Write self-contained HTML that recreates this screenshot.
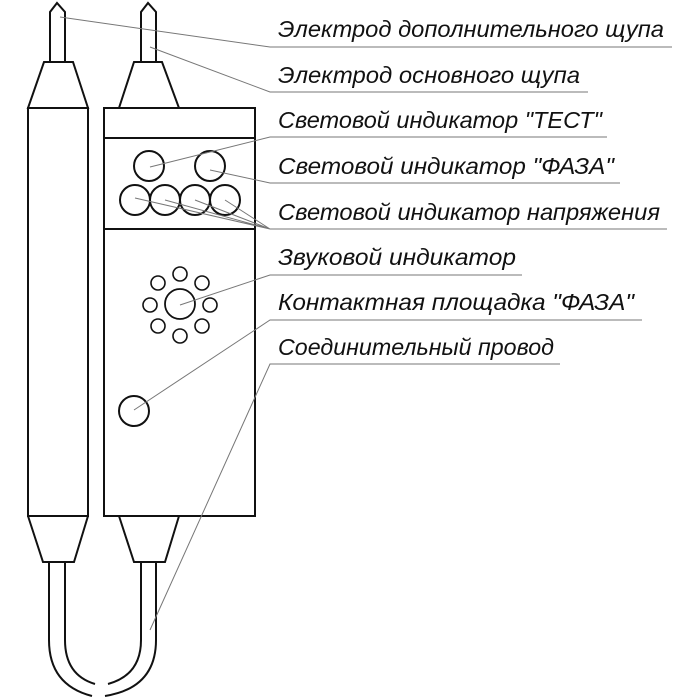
<!DOCTYPE html><html><head><meta charset="utf-8"><style>body{margin:0;background:#fff}svg{display:block}</style></head><body>
<svg width="700" height="700" viewBox="0 0 700 700" xmlns="http://www.w3.org/2000/svg">
<g fill="none" stroke="#111" stroke-width="2">
<path d="M50,62 V12 L57,3 L65,12 V62"/>
<path d="M44,62 H73 L88,108 H28 Z"/>
<rect x="28" y="108" width="60" height="408"/>
<path d="M28,516 L43,562 H74 L88,516"/>
<path d="M49,562 V640 Q49,685 92,696"/>
<path d="M65,562 V640 Q65,675 95,684"/>
<path d="M141,62 V12 L148,3 L156,12 V62"/>
<path d="M134,62 H162 L179,108 H119 Z"/>
<rect x="104" y="108" width="151" height="408"/>
<line x1="104" y1="138" x2="255" y2="138"/>
<line x1="104" y1="229" x2="255" y2="229"/>
<path d="M119,516 L134,562 H165 L179,516"/>
<path d="M141,562 V640 Q141,675 108,684"/>
<path d="M156,562 V640 Q156,688 105,696"/>
<circle cx="149" cy="166" r="15"/><circle cx="210" cy="166" r="15"/>
<circle cx="135" cy="200" r="15"/><circle cx="165" cy="200" r="15"/><circle cx="195" cy="200" r="15"/><circle cx="225" cy="200" r="15"/>
<circle cx="180" cy="304" r="15" stroke-width="1.8"/>
<g stroke-width="1.6">
<circle cx="158" cy="283" r="7"/><circle cx="180" cy="274" r="7"/><circle cx="202" cy="283" r="7"/>
<circle cx="150" cy="305" r="7"/><circle cx="210" cy="305" r="7"/>
<circle cx="158" cy="326" r="7"/><circle cx="180" cy="336" r="7"/><circle cx="202" cy="326" r="7"/>
</g>
<circle cx="134" cy="411" r="15"/>
</g>
<g fill="none" stroke="#777" stroke-width="1">
<path d="M60,17 L270,47 H672"/>
<path d="M150,47 L270,92 H588"/>
<path d="M150,167 L270,137 H607"/>
<path d="M210,170 L270,183 H620"/>
<path d="M135,198 L270,229 H667 M165,200 L270,229 M195,200 L270,229 M225,200 L270,229"/>
<path d="M180,305 L270,275 H522"/>
<path d="M134,410 L270,320 H642"/>
<path d="M150,630 L270,364 H560"/>
</g>
<g font-family="Liberation Sans, sans-serif" font-style="italic" font-size="23" fill="#111">
<text x="278" y="37" textLength="386" lengthAdjust="spacingAndGlyphs">Электрод дополнительного щупа</text>
<text x="278" y="83" textLength="302" lengthAdjust="spacingAndGlyphs">Электрод основного щупа</text>
<text x="278" y="128" textLength="324" lengthAdjust="spacingAndGlyphs">Световой индикатор "ТЕСТ"</text>
<text x="278" y="174" textLength="336" lengthAdjust="spacingAndGlyphs">Световой индикатор "ФАЗА"</text>
<text x="278" y="220" textLength="382" lengthAdjust="spacingAndGlyphs">Световой индикатор напряжения</text>
<text x="278" y="265" textLength="238" lengthAdjust="spacingAndGlyphs">Звуковой индикатор</text>
<text x="278" y="310" textLength="356" lengthAdjust="spacingAndGlyphs">Контактная площадка "ФАЗА"</text>
<text x="278" y="355" textLength="276" lengthAdjust="spacingAndGlyphs">Соединительный провод</text>
</g>
</svg>
</body></html>
